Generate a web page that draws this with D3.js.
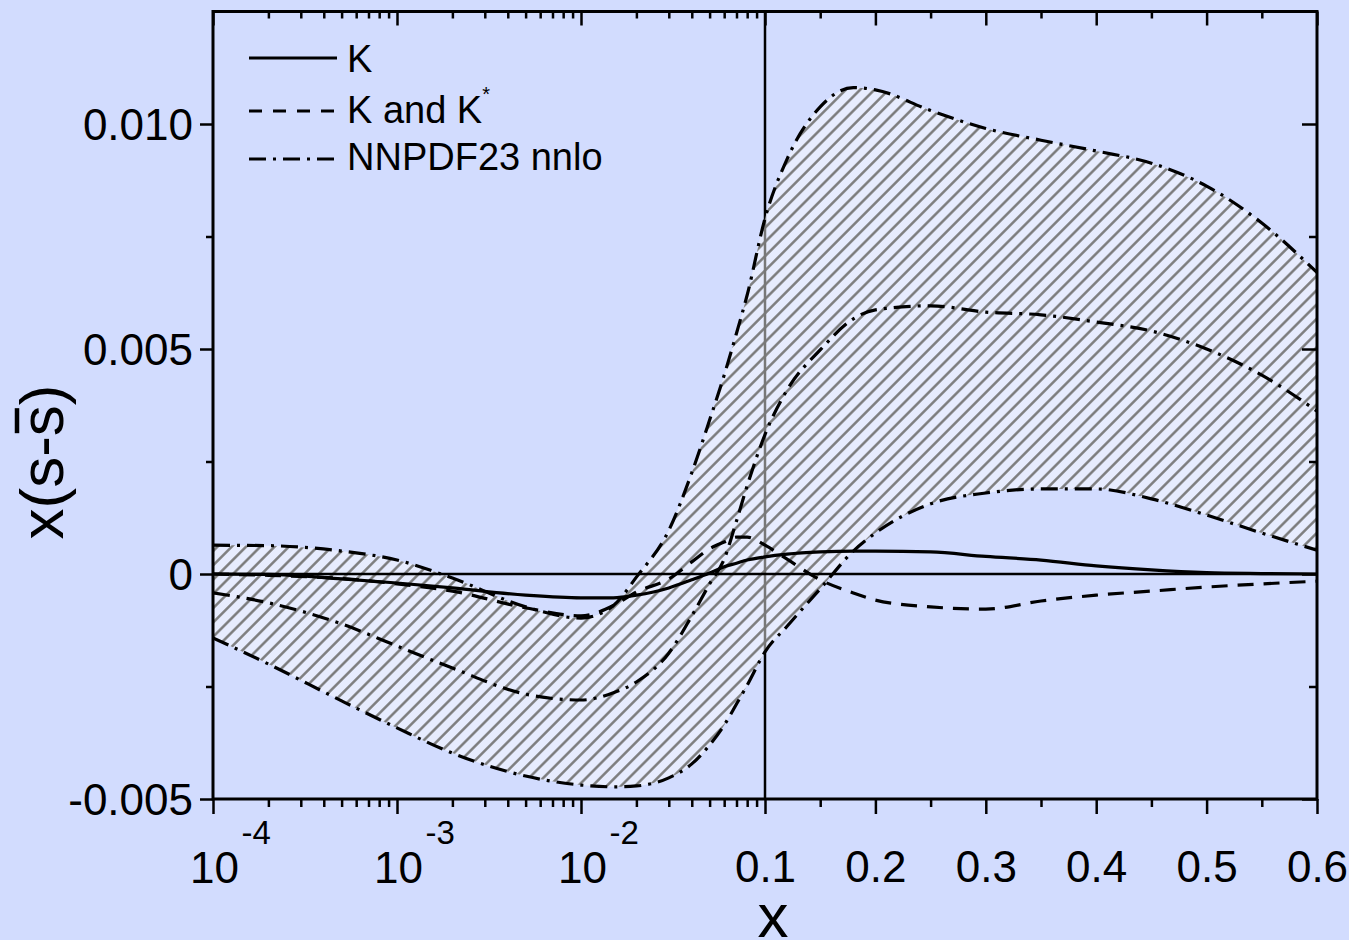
<!DOCTYPE html>
<html>
<head>
<meta charset="utf-8">
<script src="https://cdn.jsdelivr.net/npm/d3@7"></script>
<style>
  html, body { margin: 0; padding: 0; background: #d2dcfe; }
  svg { display: block; }
  text { font-family: "Liberation Sans", Arial, Helvetica, sans-serif; fill: #000; }
</style>
</head>
<body>
<svg id="chart" width="1349" height="940"></svg>
<script>
// x grid shared by all curves (log part up to 0.1, linear part above)
const xValues = [1e-4, 2e-4, 5e-4, 1e-3, 2e-3, 5e-3, 1e-2, 1.5e-2, 2e-2, 3e-2, 4e-2, 5e-2, 6e-2, 7e-2, 8e-2,
                 0.1, 0.12, 0.15, 0.18, 0.2, 0.25, 0.3, 0.35, 0.4, 0.45, 0.5, 0.55, 0.6];

// x(s - sbar) fitted with K only
const kOnly = [0, -0.00001, -0.00011, -0.0002, -0.00031, -0.00047, -0.00053, -0.00053, -0.00047, -0.00031,
               -0.00013, 0.00002, 0.00016, 0.00024, 0.00031, 0.00038, 0.00044, 0.00049, 0.00051, 0.00051,
               0.00049, 0.00039, 0.00031, 0.00018, 0.00009, 0.00003, 0.00001, 0];

// x(s - sbar) fitted with K and K*
const kAndKStar = [0, -0.00003, -0.0001, -0.00022, -0.00038, -0.00075, -0.00093, -0.0007, -0.0004, -0.00011,
                   0.00027, 0.00056, 0.00071, 0.00082, 0.00082, 0.00064, 0.00033, -0.00013, -0.00042, -0.00058,
                   -0.00073, -0.00078, -0.0006, -0.00047, -0.00038, -0.00029, -0.00022, -0.00016];

// NNPDF2.3 NNLO central value and uncertainty band
const nnpdfCentral = [-0.00042, -0.00064, -0.00111, -0.0016, -0.00209, -0.00267, -0.0028, -0.00264, -0.0024, -0.00176,
                      -0.00093, -0.00022, 0.00033, 0.00118, 0.00196, 0.0031, 0.00409, 0.00498, 0.00567, 0.00587,
                      0.00596, 0.00582, 0.00576, 0.0056, 0.0054, 0.005, 0.00442, 0.00362];
const nnpdfUpper = [0.00064, 0.00063, 0.00051, 0.00031, -0.00009, -0.00073, -0.00098, -0.0007, -0.00007, 0.00097,
                    0.00225, 0.00342, 0.00442, 0.00535, 0.0062, 0.0079, 0.00922, 0.01038, 0.01081, 0.01076,
                    0.0103, 0.0099, 0.00964, 0.0094, 0.00913, 0.00862, 0.0078, 0.0067];
const nnpdfLower = [-0.00142, -0.002, -0.00282, -0.00342, -0.00398, -0.00449, -0.00469, -0.00473, -0.00471, -0.00453,
                    -0.00422, -0.0038, -0.00336, -0.00289, -0.00247, -0.00173, -0.00116, -0.00033, 0.00051, 0.00091,
                    0.00156, 0.0018, 0.00189, 0.00189, 0.00167, 0.00131, 0.00091, 0.00053];

// axis ticks and labels
const yTickValues = [-0.005, 0, 0.005, 0.01];
const yTickLabels = ["-0.005", "0", "0.005", "0.010"];
const yMinorValues = [-0.0025, 0.0025, 0.0075];
const logTickValues = [1e-4, 1e-3, 1e-2];
const logTickExponents = ["-4", "-3", "-2"];
const logMinorValues = [2e-4, 3e-4, 4e-4, 5e-4, 6e-4, 7e-4, 8e-4, 9e-4,
                        2e-3, 3e-3, 4e-3, 5e-3, 6e-3, 7e-3, 8e-3, 9e-3,
                        2e-2, 3e-2, 4e-2, 5e-2, 6e-2, 7e-2, 8e-2, 9e-2];
const linTickValues = [0.1, 0.2, 0.3, 0.4, 0.5, 0.6];
const linTickLabels = ["0.1", "0.2", "0.3", "0.4", "0.5", "0.6"];
const linMinorValues = [0.15, 0.25, 0.35, 0.45, 0.55];
const legendLabels = ["K", "K and K", "NNPDF23 nnlo"];

// ---------------------------------------------------------------
const W = 1349, H = 940;
const L = 213, R = 1317, XM = 765, B = 799;
const BG = "#d2dcfe";

const svg = d3.select("#chart");
svg.append("rect").attr("width", W).attr("height", H).attr("fill", BG);

const xLog = d3.scaleLog().domain([1e-4, 0.1]).range([L, XM]);
const xLin = d3.scaleLinear().domain([0.1, 0.6]).range([XM, R]);
const xPos = v => (v <= 0.1 ? xLog(v) : xLin(v));
const y = d3.scaleLinear().domain([-0.005, 0.01]).range([B, 124]);
const T = y(0.0125);

const defs = svg.append("defs");
defs.append("clipPath").attr("id", "plotClip")
  .append("rect").attr("x", L).attr("y", T).attr("width", R - L).attr("height", B - T);
const HATCH_GAP = 10.1;
const hatch = defs.append("pattern").attr("id", "hatch")
  .attr("patternUnits", "userSpaceOnUse")
  .attr("width", HATCH_GAP).attr("height", HATCH_GAP)
  .attr("patternTransform", "rotate(45)");
hatch.append("line").attr("x1", HATCH_GAP / 2).attr("y1", -1).attr("x2", HATCH_GAP / 2).attr("y2", HATCH_GAP + 1)
  .attr("stroke", "#777").attr("stroke-width", 2.4);

const rows = xValues.map((x, i) => ({
  x, k: kOnly[i], kk: kAndKStar[i], c: nnpdfCentral[i], u: nnpdfUpper[i], l: nnpdfLower[i]
}));

const plot = svg.append("g").attr("clip-path", "url(#plotClip)");

// vertical divider between log and linear parts
plot.append("line")
  .attr("x1", XM).attr("x2", XM).attr("y1", T).attr("y2", B)
  .attr("stroke", "#000").attr("stroke-width", 2.5);

// uncertainty band: translucent fill plus hatching
const band = d3.area()
  .x(d => xPos(d.x)).y0(d => y(d.l)).y1(d => y(d.u))
  .curve(d3.curveMonotoneX);
plot.append("path").datum(rows).attr("d", band)
  .attr("fill", "#fff").attr("fill-opacity", 0.47);
plot.append("path").datum(rows).attr("d", band)
  .attr("fill", "url(#hatch)");

// zero line
plot.append("line")
  .attr("x1", L).attr("x2", R).attr("y1", y(0)).attr("y2", y(0))
  .attr("stroke", "#000").attr("stroke-width", 2.5);

const DASHDOT = "17,7,3,7";
const DASHED = "16,10";
const lineOf = key => d3.line().x(d => xPos(d.x)).y(d => y(d[key])).curve(d3.curveMonotoneX);

const curves = [
  { key: "u", dash: DASHDOT },
  { key: "l", dash: DASHDOT },
  { key: "c", dash: DASHDOT },
  { key: "kk", dash: DASHED },
  { key: "k", dash: null }
];
curves.forEach(cv => {
  plot.append("path").datum(rows).attr("d", lineOf(cv.key))
    .attr("fill", "none").attr("stroke", "#000").attr("stroke-width", 3.2)
    .attr("stroke-dasharray", cv.dash);
});

// ---------------- axes ----------------
function axisGroup(gen, tx, ty) {
  const g = svg.append("g").attr("transform", `translate(${tx},${ty})`).call(gen);
  g.select(".domain").remove();
  g.selectAll("line").attr("stroke", "#000").attr("stroke-width", 2.5);
  return g;
}

// bottom: outward ticks
axisGroup(d3.axisBottom(xLog).tickValues(logMinorValues).tickSize(8).tickSizeOuter(0).tickFormat(""), 0, B);
const logMajor = axisGroup(d3.axisBottom(xLog).tickValues(logTickValues).tickSize(15).tickSizeOuter(0).tickFormat(""), 0, B);
logMajor.selectAll(".tick").each(function (d, i) {
  const t = d3.select(this);
  t.append("text").attr("x", 1).attr("y", 84).attr("text-anchor", "middle")
    .attr("font-size", 44).attr("fill", "#000").text("10");
  t.append("text").attr("x", 28).attr("y", 45).attr("text-anchor", "start")
    .attr("font-size", 33).attr("fill", "#000").text(logTickExponents[i]);
});
axisGroup(d3.axisBottom(xLin).tickValues(linMinorValues).tickSize(8).tickSizeOuter(0).tickFormat(""), 0, B);
const linMajor = axisGroup(d3.axisBottom(xLin).tickValues(linTickValues).tickSize(15).tickSizeOuter(0)
  .tickPadding(37).tickFormat((d, i) => linTickLabels[i]), 0, B);
linMajor.selectAll("text").attr("font-size", 44).attr("font-family", null).attr("fill", "#000");

// top: inward ticks
axisGroup(d3.axisBottom(xLog).tickValues(logMinorValues).tickSize(7).tickSizeOuter(0).tickFormat(""), 0, T);
axisGroup(d3.axisBottom(xLog).tickValues(logTickValues).tickSize(14).tickSizeOuter(0).tickFormat(""), 0, T);
axisGroup(d3.axisBottom(xLin).tickValues(linMinorValues).tickSize(7).tickSizeOuter(0).tickFormat(""), 0, T);
axisGroup(d3.axisBottom(xLin).tickValues(linTickValues).tickSize(14).tickSizeOuter(0).tickFormat(""), 0, T);

// left: outward ticks with labels
axisGroup(d3.axisLeft(y).tickValues(yMinorValues).tickSize(7).tickSizeOuter(0).tickFormat(""), L, 0);
const yMajor = axisGroup(d3.axisLeft(y).tickValues(yTickValues).tickSize(13).tickSizeOuter(0)
  .tickPadding(7).tickFormat((d, i) => yTickLabels[i]), L, 0);
yMajor.selectAll("text").attr("font-size", 44).attr("font-family", null).attr("dy", "0.36em").attr("fill", "#000");

// right: inward ticks
axisGroup(d3.axisLeft(y).tickValues(yMinorValues).tickSize(8).tickSizeOuter(0).tickFormat(""), R, 0);
axisGroup(d3.axisLeft(y).tickValues(yTickValues).tickSize(15).tickSizeOuter(0).tickFormat(""), R, 0);

// frame
svg.append("rect").attr("x", L).attr("y", T).attr("width", R - L).attr("height", B - T)
  .attr("fill", "none").attr("stroke", "#000").attr("stroke-width", 3);

// ---------------- titles ----------------
svg.append("text").attr("x", 773).attr("y", 937).attr("text-anchor", "middle")
  .attr("font-size", 62).text("x");

const yTitle = svg.append("g").attr("transform", "translate(63,462) rotate(-90)");
const yText = yTitle.append("text").attr("x", 0).attr("y", 0).attr("text-anchor", "middle")
  .attr("font-size", 62).text("x(s-s)");
const tn = yText.node();
const s0 = tn.getStartPositionOfChar(4), s1 = tn.getEndPositionOfChar(4);
yTitle.append("line")
  .attr("x1", s0.x + 3).attr("x2", s1.x - 3).attr("y1", -46).attr("y2", -46)
  .attr("stroke", "#000").attr("stroke-width", 4.5);

// ---------------- legend ----------------
const legendItems = [
  { label: legendLabels[0], dash: null, ly: 58, ty: 72 },
  { label: legendLabels[1], dash: "13,11", ly: 111, ty: 123, sup: "*" },
  { label: legendLabels[2], dash: DASHDOT, ly: 159, ty: 170 }
];
const legend = svg.append("g");
legendItems.forEach(it => {
  legend.append("line").attr("x1", 249).attr("x2", 337).attr("y1", it.ly).attr("y2", it.ly)
    .attr("stroke", "#000").attr("stroke-width", 3).attr("stroke-dasharray", it.dash);
  const t = legend.append("text").attr("x", 347).attr("y", it.ty).attr("font-size", 38).text(it.label);
  if (it.sup) {
    t.append("tspan").attr("font-size", 20).attr("dy", -22).text(it.sup);
  }
});
</script>
</body>
</html>
